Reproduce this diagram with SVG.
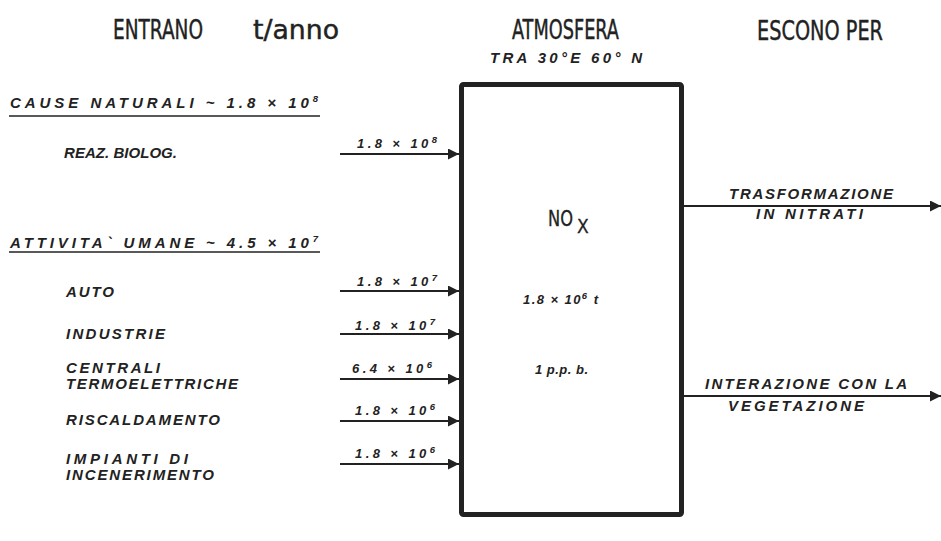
<svg xmlns="http://www.w3.org/2000/svg" width="941" height="541" viewBox="0 0 941 541">
<style>
.t{font-family:"DejaVu Sans Condensed","Liberation Sans Narrow",sans-serif;font-size:26px;fill:#222;stroke:#222;stroke-width:0.4}
.i{font-family:"Liberation Sans","Arial",sans-serif;font-style:italic;font-weight:bold;font-size:15px;fill:#222}
.s{font-family:"Liberation Sans","Arial",sans-serif;font-style:italic;font-weight:bold;font-size:13px;fill:#222}
.sup{font-size:9.5px}
.ln{stroke:#222;stroke-width:2;fill:none}
.u{stroke:#222;stroke-width:1.5}
</style>
<defs>
<marker id="ah" viewBox="0 0 10 10" refX="10" refY="5" markerWidth="7.5" markerHeight="5.5" markerUnits="strokeWidth" orient="auto">
<path d="M0,0 L10,5 L0,10 z" fill="#222"/>
</marker>
</defs>
<rect width="941" height="541" fill="#fff"/>

<g id="headers">
<text class="t" x="113" y="39" textLength="90" lengthAdjust="spacingAndGlyphs">ENTRANO</text>
<text class="t" x="253" y="39" textLength="86" lengthAdjust="spacingAndGlyphs">t/anno</text>
<text class="t" x="512" y="39" textLength="107" lengthAdjust="spacingAndGlyphs">ATMOSFERA</text>
<text class="i" x="490" y="63" font-size="14" textLength="152" lengthAdjust="spacing">TRA 30°E 60° N</text>
<text class="t" x="757" y="40" textLength="126" lengthAdjust="spacingAndGlyphs">ESCONO PER</text>
</g>

<g id="sources">
<text class="i" x="10" y="108" textLength="308" lengthAdjust="spacing">CAUSE  NATURALI  ~ 1.8 × 10<tspan class="sup" dy="-6">8</tspan></text>
<line class="u" x1="9" y1="116" x2="320" y2="116"/>
<text class="i" x="64" y="158" textLength="113" lengthAdjust="spacing">REAZ. BIOLOG.</text>
<text class="i" x="10" y="248" textLength="308" lengthAdjust="spacing">ATTIVITA` UMANE  ~ 4.5 × 10<tspan class="sup" dy="-6">7</tspan></text>
<line class="u" x1="9" y1="252" x2="320" y2="252"/>
<text class="i" x="66" y="297" textLength="48" lengthAdjust="spacing">AUTO</text>
<text class="i" x="66" y="339" textLength="99" lengthAdjust="spacing">INDUSTRIE</text>
<text class="i" font-size="12.5"><tspan x="66" y="373" textLength="94" lengthAdjust="spacing">CENTRALI</tspan><tspan x="66" y="389" textLength="172" lengthAdjust="spacing">TERMOELETTRICHE</tspan></text>
<text class="i" x="66" y="425" textLength="154" lengthAdjust="spacing">RISCALDAMENTO</text>
<text class="i" font-size="14"><tspan x="66" y="464" textLength="122" lengthAdjust="spacing">IMPIANTI   DI</tspan><tspan x="66" y="480" textLength="148" lengthAdjust="spacing">INCENERIMENTO</tspan></text>
</g>

<g id="atmosfera">
<rect x="461.5" y="84.5" width="220" height="430" fill="none" stroke="#222" stroke-width="5" rx="2"/>
<text x="548" y="226" font-family="DejaVu Sans Condensed,Liberation Sans Narrow,sans-serif" font-size="22" fill="#222" stroke="#222" stroke-width="0.3"><tspan textLength="25" lengthAdjust="spacingAndGlyphs">NO</tspan><tspan x="577" dy="7" font-size="19">X</tspan></text>
<text class="s" x="523" y="304" textLength="75" lengthAdjust="spacing">1.8 × 10<tspan class="sup" dy="-5">6</tspan><tspan dy="5"> t</tspan></text>
<text class="s" x="535" y="374" textLength="53" lengthAdjust="spacing">1  p.p. b.</text>
</g>

<g id="connectors">
<line class="ln" x1="340" y1="154" x2="459" y2="154" marker-end="url(#ah)"/>
<line class="ln" x1="340" y1="291" x2="459" y2="291" marker-end="url(#ah)"/>
<line class="ln" x1="340" y1="334" x2="459" y2="334" marker-end="url(#ah)"/>
<line class="ln" x1="340" y1="379" x2="459" y2="379" marker-end="url(#ah)"/>
<line class="ln" x1="340" y1="421" x2="459" y2="421" marker-end="url(#ah)"/>
<line class="ln" x1="340" y1="464" x2="459" y2="464" marker-end="url(#ah)"/>
<line class="ln" x1="684" y1="206" x2="941" y2="206" marker-end="url(#ah)"/>
<line class="ln" x1="684" y1="396" x2="941" y2="396" marker-end="url(#ah)"/>
</g>

<g id="flow-labels">
<text class="s" x="357" y="148" textLength="80" lengthAdjust="spacing">1.8 × 10<tspan class="sup" dy="-5">8</tspan></text>
<text class="s" x="357" y="286" textLength="80" lengthAdjust="spacing">1.8 × 10<tspan class="sup" dy="-5">7</tspan></text>
<text class="s" x="355" y="330" textLength="80" lengthAdjust="spacing">1.8 × 10<tspan class="sup" dy="-5">7</tspan></text>
<text class="s" x="352" y="373" textLength="80" lengthAdjust="spacing">6.4 × 10<tspan class="sup" dy="-5">6</tspan></text>
<text class="s" x="355" y="415" textLength="80" lengthAdjust="spacing">1.8 × 10<tspan class="sup" dy="-5">6</tspan></text>
<text class="s" x="355" y="458" textLength="80" lengthAdjust="spacing">1.8 × 10<tspan class="sup" dy="-5">6</tspan></text>
<text class="i"><tspan x="729" y="199" textLength="164" lengthAdjust="spacing">TRASFORMAZIONE</tspan><tspan x="756" y="219" textLength="107" lengthAdjust="spacing">IN  NITRATI</tspan></text>
<text class="i"><tspan x="705" y="389" textLength="202" lengthAdjust="spacing">INTERAZIONE  CON  LA</tspan><tspan x="728" y="411" textLength="136" lengthAdjust="spacing">VEGETAZIONE</tspan></text>
</g>
</svg>
